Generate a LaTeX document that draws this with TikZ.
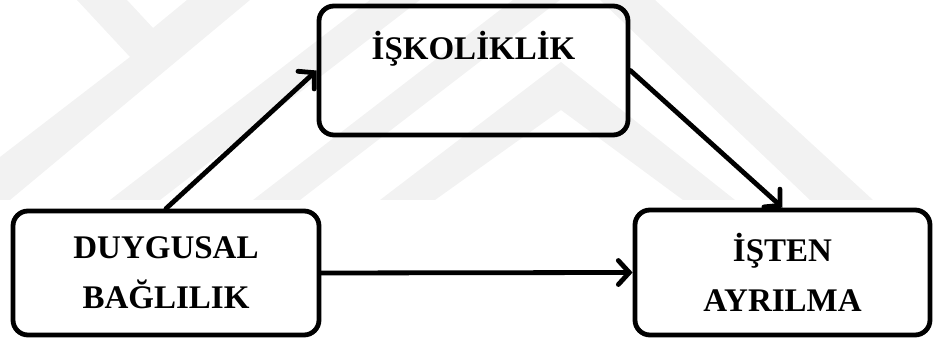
\documentclass[tikz,border=0pt]{standalone}
\usepackage{fontspec}
\setmainfont{Liberation Serif}
\usepackage{xcolor}
\usepackage{tikz}
\usetikzlibrary{positioning, arrows.meta}

\begin{document}
\begin{tikzpicture}[x=0.5pt, y=-0.5pt,
    box/.style={draw, line width=2.4pt, rounded corners=7.5pt, align=center,
      font=\fontsize{16.5}{25}\selectfont\bfseries},
    arr/.style={line width=2.4pt, line cap=round,
      -{Straight Barb[length=5.5pt, width=12pt, line cap=round]}}]
    \useasboundingbox (0,0) rectangle (934,340);
    % faint watermark stripes
    \begin{scope}
      \clip (0,0) rectangle (934,200);
      \fill[black!5] (0,157) -- (130,57) -- (77,0) -- (127,0) -- (153,28) -- (187,0) -- (250,0) -- (10,200) -- (0,200) -- cycle;
      \fill[black!5] (110,200) -- (160,200) -- (420,0) -- (370,0) -- cycle;
      \fill[black!5] (253,200) -- (300,200) -- (560,0) -- (513,0) -- cycle;
      \fill[black!5] (380,200) -- (561,62) -- (735,200) -- (683,200) -- (561,110) -- (435,200) -- cycle;
      \fill[black!5] (600,0) -- (655,0) -- (873,200) -- (810,200) -- cycle;
    \end{scope}
    \node[box, minimum width=153pt, minimum height=62pt] (duygusal) at (166,273) {DUYGUSAL\\BAĞLILIK};
    \node[box, minimum width=154.5pt, minimum height=64.5pt] (iskolik) at (473.5,70.5) {İŞKOLİKLİK\\\mbox{}};
    \node[box, minimum width=147.5pt, minimum height=62.5pt] (isten) at (782.5,272.5) {İŞTEN\\AYRILMA};
    \draw[arr] (duygusal.north) -- (iskolik.west);
    \draw[arr] (iskolik.east) -- (isten.north);
    \draw[arr] (duygusal.east) -- (isten.west);
\end{tikzpicture}
\end{document}
